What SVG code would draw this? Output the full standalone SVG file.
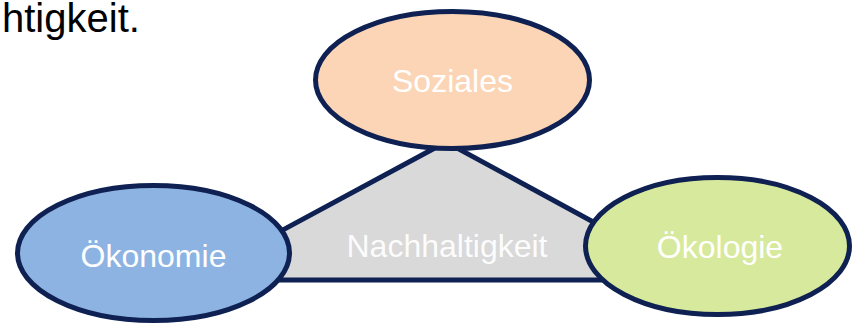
<svg xmlns="http://www.w3.org/2000/svg" width="852" height="325" viewBox="0 0 852 325">
<style>
.node{stroke:#0E2152;stroke-width:5}
.lbl{font-family:"Liberation Sans",Arial,sans-serif;font-size:32px;fill:#FFFFFF;text-anchor:middle}
.edge{fill:#D9D9D9;stroke:#0E2152;stroke-width:5;stroke-linejoin:miter}
</style>
<rect width="852" height="325" fill="#FFFFFF"/>
<text x="2" y="32" style="font-family:'Liberation Sans',Arial,sans-serif;font-size:40px;fill:#000000">htigkeit.</text>
<g id="connectors">
<polygon id="nachhaltigkeit" class="edge" points="446,142 190,280 700,280"/>
<text class="lbl" x="447" y="257" fill-opacity="0.95">Nachhaltigkeit</text>
</g>
<g id="soziales">
<ellipse class="node" cx="452.5" cy="80" rx="137" ry="68.5" fill="#FBD5B5"/>
<text class="lbl" x="452.5" y="92">Soziales</text>
</g>
<g id="oekonomie">
<ellipse class="node" cx="153.5" cy="253" rx="136" ry="67.5" fill="#8DB3E2"/>
<text class="lbl" x="153.5" y="267">Ökonomie</text>
</g>
<g id="oekologie">
<ellipse class="node" cx="717.5" cy="246" rx="132" ry="68.5" fill="#D7E99C"/>
<text class="lbl" x="720" y="258">Ökologie</text>
</g>
</svg>
